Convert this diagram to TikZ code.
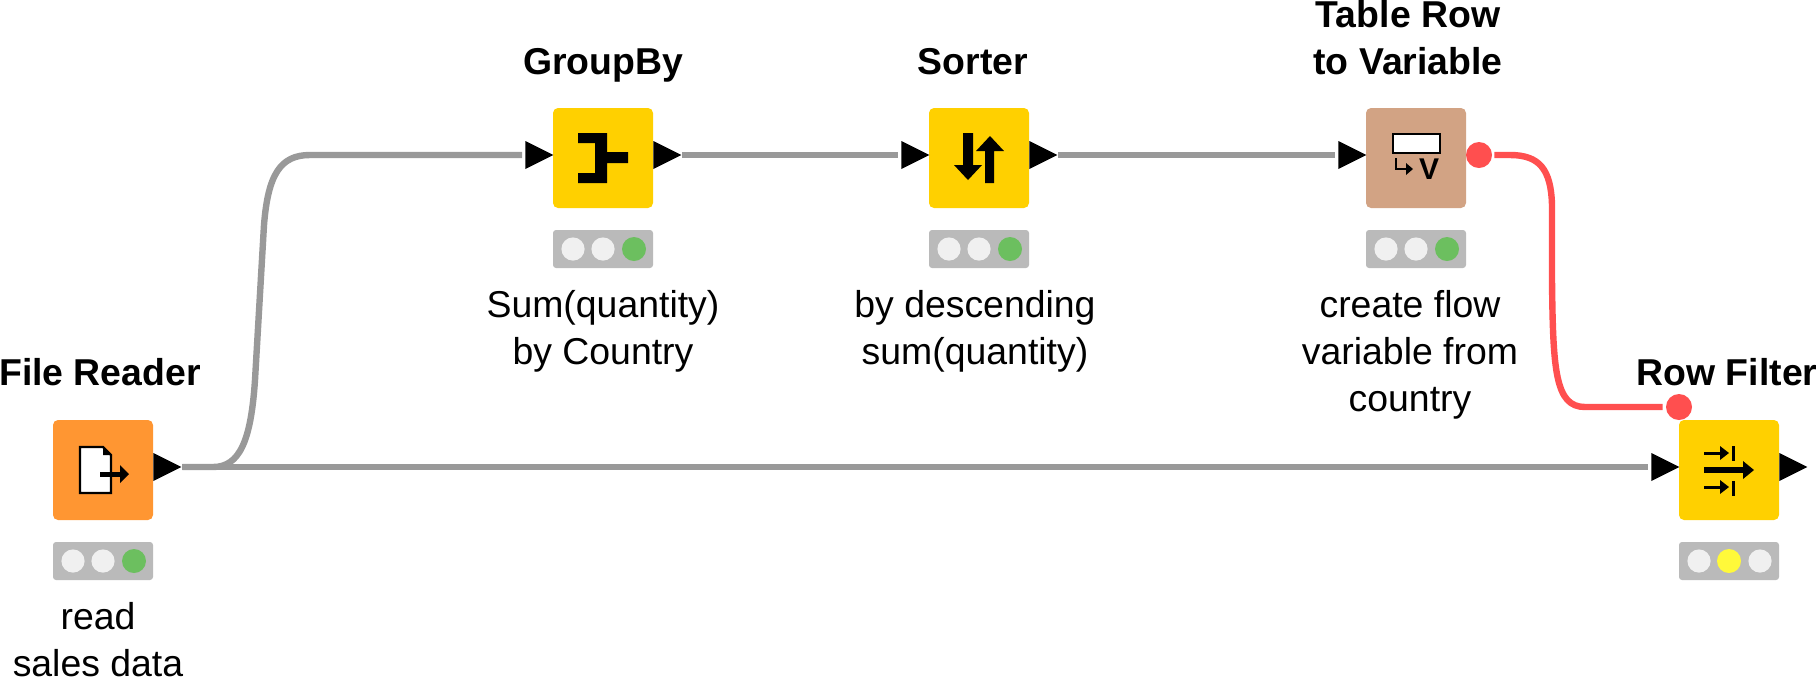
\documentclass[tikz,border=0pt]{standalone}
\usepackage{fontspec}
\setmainfont{Liberation Sans}
\usetikzlibrary{shapes.geometric}
\definecolor{knimeyellow}{HTML}{FFD000}
\definecolor{knimeorange}{HTML}{FF9632}
\definecolor{knimebrown}{HTML}{D2A384}
\definecolor{flowred}{HTML}{FF4F4F}
\definecolor{linkgrey}{HTML}{999999}
\definecolor{lightoff}{HTML}{F0F0F0}
\definecolor{lightgreen}{HTML}{6CBF5F}
\definecolor{lightyellow}{HTML}{FFF93A}
\tikzset{
  nodebox/.style={rounded corners=2.5pt, minimum size=50pt, inner sep=0pt},
  statusbar/.style={fill=black!27, rounded corners=1.5pt, minimum width=50pt, minimum height=19pt, inner sep=0pt},
  dataport/.style={isosceles triangle, isosceles triangle stretches, fill=black, minimum height=14pt, minimum width=14pt, inner sep=0pt, anchor=lower side},
  varport/.style={circle, fill=flowred, minimum size=13pt, inner sep=0pt},
  title/.style={font=\fontsize{18.7}{23.5}\selectfont\bfseries, align=center, anchor=base, inner sep=0pt},
  note/.style={font=\fontsize{18.7}{23.5}\selectfont, align=center, anchor=base, inner sep=0pt},
  datalink/.style={draw=linkgrey, line width=3.2pt},
  varlink/.style={draw=flowred, line width=3.2pt}
}
\begin{document}
\begin{tikzpicture}[x=0.5pt, y=-0.5pt]
    \useasboundingbox (0,0) rectangle (1817,677);
    % boxes and status lights
    \foreach \nm/\cx/\cy/\col in {file/103/470/knimeorange, group/603/158/knimeyellow, sorter/979/158/knimeyellow, table/1416/158/knimebrown, filter/1729/470/knimeyellow} {
      \node[nodebox, fill=\col] (\nm) at (\cx,\cy) {};
      \node[statusbar] (\nm bar) at (\cx,\cy+91) {};
      \fill[lightoff] (\cx-30,\cy+91) circle (5.8pt);
    }
    \foreach \nm/\cx/\cy in {file/103/470, group/603/158, sorter/979/158, table/1416/158} {
      \fill[lightoff] (\cx,\cy+91) circle (5.8pt);
      \fill[lightgreen] (\cx+31,\cy+91) circle (6pt);
    }
    \fill[lightyellow] (1729,561) circle (6pt);
    \fill[lightoff] (1760,561) circle (5.8pt);

    % ports
    \node[dataport] (fileOut) at (153,467) {};
    \node[dataport] (groupIn) at (525,155) {};
    \node[dataport] (groupOut) at (653,155) {};
    \node[dataport] (sorterIn) at (901,155) {};
    \node[dataport] (sorterOut) at (1029,155) {};
    \node[dataport] (tableIn) at (1338,155) {};
    \node[varport] (tableOut) at (1479,155) {};
    \node[dataport] (filterIn) at (1651,467) {};
    \node[dataport] (filterOut) at (1779,467) {};
    \node[varport] (filterVar) at (1679,407) {};

    % connectors
    \coordinate (split) at (213,467);
    \coordinate (riseA) at (255,380);
    \coordinate (riseB) at (264,225);
    \coordinate (top) at (310,155);
    \coordinate (redA) at (1510,155);
    \coordinate (redB) at (1552,205);
    \coordinate (redC) at (1552,280);
    \coordinate (redD) at (1585,407);
    \draw[datalink, shorten >=1.5pt] (fileOut.apex) -- (filterIn.lower side);
    \draw[datalink, shorten >=1.5pt] (fileOut.apex) -- (split) .. controls (240,467) and (251,440) .. (riseA) -- (riseB) .. controls (268,175) and (280,155) .. (top) -- (groupIn.lower side);
    \draw[datalink, shorten >=1.5pt] (groupOut.apex) -- (sorterIn.lower side);
    \draw[datalink, shorten >=1.5pt] (sorterOut.apex) -- (tableIn.lower side);
    \draw[varlink, shorten <=1pt, shorten >=1.5pt] (tableOut.east) -- (redA) .. controls (1540,155) and (1551,170) .. (redB) -- (redC) .. controls (1553,370) and (1555,407) .. (redD) -- (filterVar.west);

    % icons
    \draw[black, fill=white, line width=1.2pt] (80,447) -- (103,447) -- (111,455) -- (111,493) -- (80,493) -- cycle;
    \fill (103,446) -- (112,455) -- (103,455) -- cycle;
    \draw[line width=2.5pt] (100,474) -- (122,474);
    \fill (120,465) -- (129,474) -- (120,483) -- cycle;

    \fill (578,133) -- (607,133) -- (607,152) -- (628,152) -- (628,163) -- (607,163) -- (607,183) -- (578,183) -- (578,173) -- (595,173) -- (595,143) -- (578,143) -- cycle;

    \fill (963,133) -- (973,133) -- (973,165) -- (982,165) -- (968,180) -- (954,165) -- (963,165) -- cycle;
    \fill (985,183) -- (994,183) -- (994,151) -- (1004,151) -- (990,136) -- (976,151) -- (985,151) -- cycle;

    \draw[fill=white, line width=1.4pt] (1393,134) rectangle (1440,153);
    \draw[line width=1.4pt] (1396,158) -- (1396,169) -- (1408,169);
    \fill (1406,163) -- (1413,169) -- (1406,175) -- cycle;
    \node[font=\fontsize{15}{15}\selectfont\bfseries, inner sep=0pt, anchor=base] (tableV) at (1429,179) {V};

    \draw[line width=1.5pt] (1704,453) -- (1722,453);
    \fill (1720,446) -- (1729,453) -- (1720,460) -- cycle;
    \draw[line width=1.5pt] (1733,446) -- (1733,461);
    \draw[line width=1.5pt] (1704,487) -- (1722,487);
    \fill (1720,480) -- (1729,487) -- (1720,494) -- cycle;
    \draw[line width=1.5pt] (1733,481) -- (1733,496);
    \draw[line width=3pt] (1704,470) -- (1745,470);
    \fill (1743,461) -- (1754,470) -- (1743,479) -- cycle;

    % labels
    \node[title] (fileTitle) at (100,385) {File Reader};
    \node[title] (groupTitle) at (603,74) {GroupBy};
    \node[title] (sorterTitle) at (973,74) {Sorter};
    \node[title] (tableTitle) at (1408,74) {Table Row\\to Variable};
    \node[title] (filterTitle) at (1727,385) {Row Filter};
    \node[note] (fileNote) at (98,676) {read\\sales data};
    \node[note] (groupNote) at (603,364) {Sum(quantity)\\by Country};
    \node[note] (sorterNote) at (975,364) {by descending\\sum(quantity)};
    \node[note] (tableNote) at (1410,411) {create flow\\variable from\\country};
\end{tikzpicture}
\end{document}
